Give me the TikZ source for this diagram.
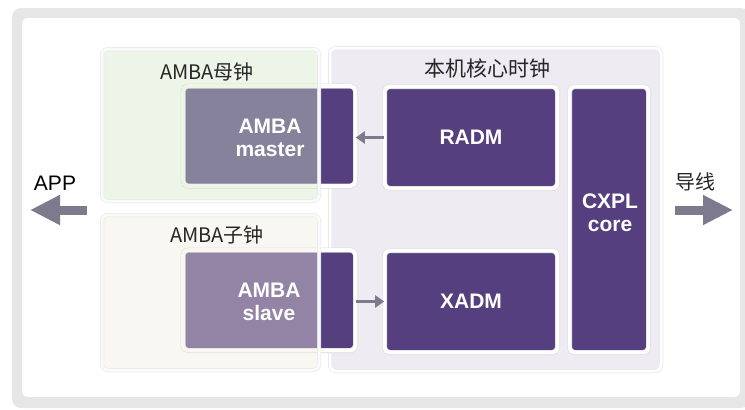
\documentclass[tikz,border=0pt]{standalone}
\usepackage{fontspec}
\setmainfont{Liberation Sans}
\newfontfamily\cjk{Noto Sans CJK SC}
\usetikzlibrary{arrows.meta,shadows}
\definecolor{framegray}{HTML}{E6E6E6}
\definecolor{purp}{HTML}{553F7E}
\definecolor{arrg}{HTML}{7C7A8C}
\definecolor{lav}{HTML}{EFEBF2}
\definecolor{greenov}{RGB}{212,232,202}
\definecolor{creamov}{RGB}{242,235,222}
\begin{document}
\begin{tikzpicture}[x=1pt,y=-1pt,
  block/.style={draw=black!14, double=white, line width=0.6pt, double distance=3.8pt, fill=purp, rounded corners=5pt, inner sep=0pt,
    drop shadow={opacity=0.12, shadow xshift=1.5pt, shadow yshift=-2pt}},
  clockbox/.style={draw=black!12, double=white, line width=0.5pt, double distance=3pt, draw opacity=0.85, fill opacity=0.4, rounded corners=6pt, inner sep=0pt},
  btxt/.style={text=white, font=\bfseries\fontsize{21}{23}\selectfont, align=center, inner sep=0pt},
  ctitle/.style={font=\cjk\fontsize{20}{24}\selectfont, text=black!85, inner sep=0pt},
  bigarrow/.style={line width=9pt, draw=arrg, -{Triangle[length=30pt,width=28pt]}},
  smallarrow/.style={line width=3pt, draw=arrg, -{Triangle[length=9pt,width=12pt]}}
]
\clip (0,0) rectangle (745,410);
% frame
\node[fill=framegray, rounded corners=9pt, minimum width=738pt, minimum height=400pt, inner sep=0pt] (frame) at (381,208) {};
\node[fill=white, rounded corners=6pt, minimum width=718pt, minimum height=379pt, inner sep=0pt] (inner) at (381,207.5) {};
% core clock domain
\node[draw=black!12, double=white, line width=0.5pt, double distance=3pt, fill=lav, rounded corners=6pt, inner sep=0pt,
  minimum width=331pt, minimum height=323pt,
  drop shadow={opacity=0.1, shadow xshift=1.5pt, shadow yshift=-2pt}] (core) at (495.5,209.5) {};
% blocks
\node[block, minimum width=172.5pt, minimum height=100pt] (master) at (269.25,136) {};
\node[block, minimum width=172.5pt, minimum height=100.5pt] (slave) at (269.25,300.25) {};
\node[block, minimum width=173pt, minimum height=102pt, btxt] (radm) at (471,137.5) {RADM};
\node[block, minimum width=173pt, minimum height=102pt, btxt] (xadm) at (471,301.5) {XADM};
\node[block, minimum width=79pt, minimum height=266pt] (cxpl) at (609,219.5) {};
\node[btxt] (cxpltxt) at (610,213) {CXPL\\core};
% AMBA clock domains (translucent overlays)
\node[clockbox, fill=greenov, minimum width=217pt, minimum height=152pt] (mclk) at (210.5,125) {};
\node[clockbox, fill=creamov, minimum width=217pt, minimum height=155pt] (sclk) at (210.5,292.5) {};
% block texts above overlays
\node[btxt] (mtxt) at (270,138) {AMBA\\master};
\node[btxt] (stxt) at (269,302) {AMBA\\slave};
% titles
\node[ctitle] (mtitle) at (207,72) {AMBA母钟};
\node[ctitle] (stitle) at (217,235) {AMBA子钟};
\node[ctitle, font=\cjk\fontsize{21}{24}\selectfont] (ctitle) at (487,68) {本机核心时钟};
% small arrows
\draw[smallarrow] (radm.west) -- (radm.west -| master.east);
\draw[smallarrow] (slave.east |- xadm.west) -- (xadm.west);
% big arrows
\coordinate (appS) at (87,210);
\coordinate (appE) at (30,210);
\draw[bigarrow] (appS) -- (appE);
\node[font=\fontsize{21}{24}\selectfont, inner sep=0pt] (app) at (55,183) {APP};
\coordinate (wS) at (675,210);
\coordinate (wE) at (733,210);
\draw[bigarrow] (wS) -- (wE);
\node[ctitle] (wire) at (695,182) {导线};
\end{tikzpicture}
\end{document}
